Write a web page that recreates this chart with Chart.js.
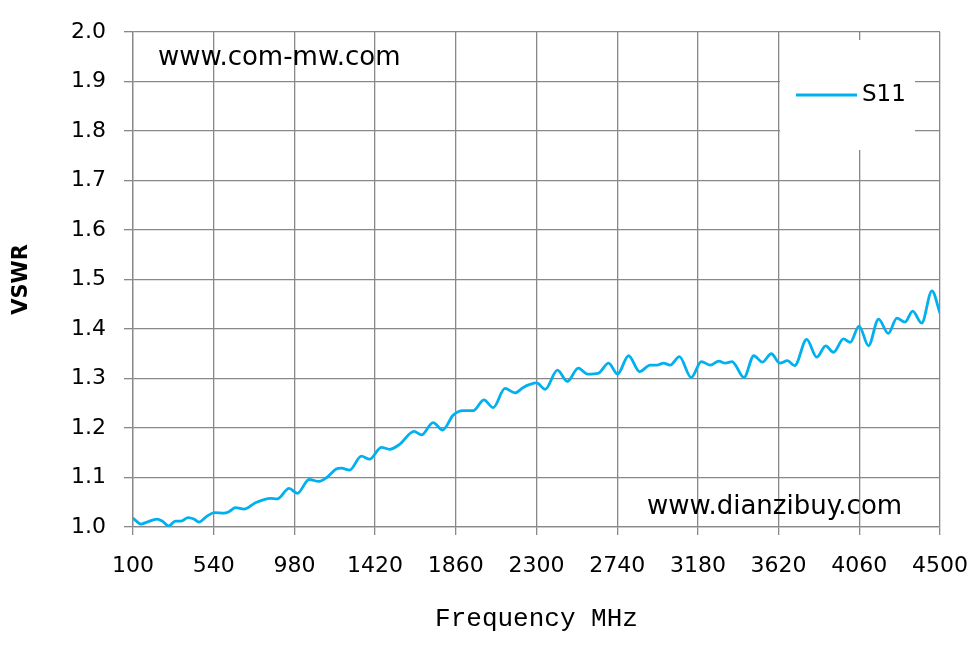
<!DOCTYPE html>
<html>
<head>
<meta charset="utf-8">
<script src="https://cdn.jsdelivr.net/npm/chart.js@4.4.1/dist/chart.umd.min.js"></script>
<style>
  html, body { margin: 0; padding: 0; background: #ffffff; }
  #wrap { width: 979px; height: 649px; }
</style>
</head>
<body>
<div id="wrap"><canvas id="c" width="979" height="649"></canvas></div>
<script>
// ---- data ----
const seriesName = 'S11';
const freqMHz = [100,144,177,231,259,295,331,362,401,432,459,504,544,596,623,659,705,768,850,887,951,996,1060,1115,1157,1208,1235,1281,1345,1390,1454,1499,1554,1632,1673,1736,1788,1846,1900,1955,2013,2064,2128,2183,2228,2265,2301,2347,2414,2468,2528,2578,2638,2693,2742,2802,2862,2920,2957,2993,3029,3079,3143,3199,3248,3294,3330,3367,3385,3431,3485,3531,3580,3627,3668,3708,3773,3828,3877,3919,3974,4010,4059,4110,4165,4218,4265,4309,4351,4400,4456,4500];
const vswr = [1.018,1.006,1.010,1.016,1.012,1.002,1.012,1.012,1.019,1.016,1.010,1.022,1.029,1.028,1.031,1.039,1.036,1.049,1.058,1.057,1.078,1.068,1.096,1.092,1.100,1.117,1.119,1.115,1.143,1.137,1.161,1.157,1.167,1.193,1.186,1.211,1.196,1.226,1.235,1.235,1.257,1.241,1.280,1.271,1.282,1.288,1.291,1.278,1.317,1.294,1.321,1.309,1.311,1.331,1.309,1.346,1.314,1.327,1.327,1.331,1.327,1.344,1.302,1.334,1.327,1.335,1.331,1.334,1.327,1.302,1.346,1.333,1.350,1.331,1.336,1.326,1.379,1.343,1.366,1.353,1.380,1.373,1.406,1.366,1.420,1.391,1.422,1.414,1.436,1.412,1.477,1.432];
const xTicks = [100,540,980,1420,1860,2300,2740,3180,3620,4060,4500];
const yTicks = [1.0,1.1,1.2,1.3,1.4,1.5,1.6,1.7,1.8,1.9,2.0];
const xTitle = 'Frequency MHz';
const yTitle = 'VSWR';
const watermarkTop = 'www.com-mw.com';
const watermarkBottom = 'www.dianzibuy.com';

const lineColor = '#00B0F0';
const gridColor = '#888888';
const sansFont = "'DejaVu Sans', 'Open Sans', sans-serif";

const overlayPlugin = {
  id: 'overlay',
  afterDraw(chart) {
    const ctx = chart.ctx;
    const ca = chart.chartArea;
    ctx.save();
    // watermark texts
    ctx.fillStyle = '#000000';
    ctx.font = "26px " + sansFont;
    ctx.textBaseline = 'alphabetic';
    ctx.textAlign = 'left';
    ctx.fillText(watermarkTop, ca.left + 25, ca.top + 33);
    ctx.fillText(watermarkBottom, ca.left + 514, ca.bottom - 13);
    // legend box
    const bx = ca.right - 160, by = ca.top + 8, bw = 135, bh = 110;
    ctx.fillStyle = '#ffffff';
    ctx.fillRect(bx, by, bw, bh);
    const ds = chart.data.datasets[0];
    const ly = by + 55;
    ctx.strokeStyle = ds.borderColor;
    ctx.lineWidth = 2.8;
    ctx.beginPath();
    ctx.moveTo(bx + 16, ly);
    ctx.lineTo(bx + 77, ly);
    ctx.stroke();
    ctx.fillStyle = '#000000';
    ctx.font = "23px " + sansFont;
    ctx.textBaseline = 'middle';
    ctx.fillText(ds.label, bx + 82, ly);
    ctx.restore();
  }
};

new Chart(document.getElementById('c'), {
  type: 'line',
  data: {
    datasets: [{
      label: seriesName,
      data: freqMHz.map((f, i) => ({ x: f, y: vswr[i] })),
      borderColor: lineColor,
      backgroundColor: lineColor,
      borderWidth: 2.8,
      pointRadius: 0,
      fill: false,
      cubicInterpolationMode: 'monotone'
    }]
  },
  options: {
    responsive: false,
    animation: false,
    devicePixelRatio: 1,
    layout: { padding: { left: 0, top: 32, right: 39, bottom: 0 } },
    plugins: {
      legend: { display: false },
      tooltip: { enabled: false }
    },
    scales: {
      x: {
        type: 'linear',
        min: xTicks[0],
        max: xTicks[xTicks.length - 1],
        afterBuildTicks(scale) { scale.ticks = xTicks.map(v => ({ value: v })); },
        afterFit(scale) { scale.height = 122; scale.paddingLeft = 0; scale.paddingRight = 0; },
        ticks: {
          autoSkip: false, maxRotation: 0, color: '#000000', padding: 18,
          font: { family: sansFont, size: 22 },
          callback: v => String(v)
        },
        grid: { color: gridColor, lineWidth: 1.3, tickLength: 8, drawTicks: true },
        border: { color: gridColor, width: 1.3 },
        title: {
          display: true, text: xTitle, color: '#000000',
          font: { family: "'Liberation Mono', 'DejaVu Sans Mono', monospace", size: 26 },
          padding: { top: 0, bottom: 14 }
        }
      },
      y: {
        type: 'linear',
        min: yTicks[0],
        max: yTicks[yTicks.length - 1],
        afterBuildTicks(scale) { scale.ticks = yTicks.map(v => ({ value: v })); },
        afterFit(scale) { scale.width = 133; scale.paddingTop = 0; scale.paddingBottom = 0; },
        ticks: {
          color: '#000000', padding: 18,
          font: { family: sansFont, size: 22 },
          callback: v => Number(v).toFixed(1)
        },
        grid: { color: gridColor, lineWidth: 1.3, tickLength: 9, drawTicks: true },
        border: { color: gridColor, width: 1.3 },
        title: {
          display: true, text: yTitle, color: '#000000',
          font: { family: sansFont, size: 21, weight: 'bold' },
          padding: { top: 9, bottom: 0 }
        }
      }
    }
  },
  plugins: [overlayPlugin]
});
</script>
</body>
</html>
